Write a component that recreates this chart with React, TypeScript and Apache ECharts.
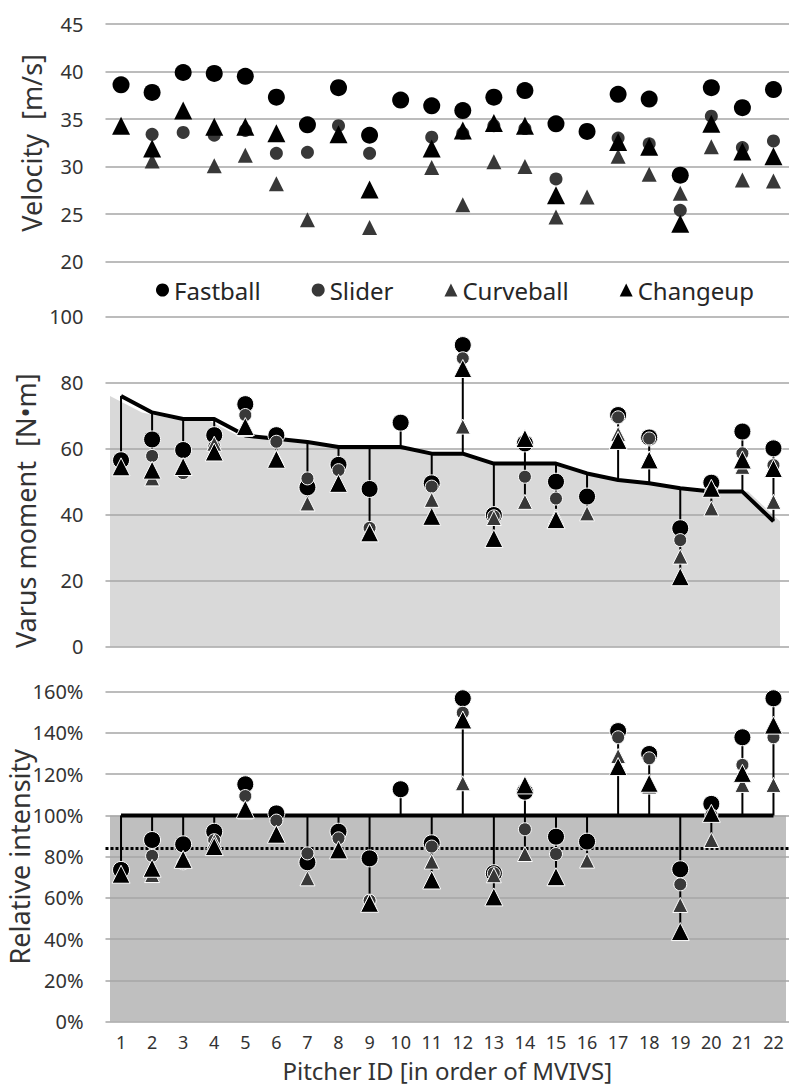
import React, { useEffect, useRef } from "react";
import * as echarts from "echarts";

const pitchers = ["1","2","3","4","5","6","7","8","9","10","11","12","13","14","15","16","17","18","19","20","21","22"];

// Velocity [m/s]
const velFastball = [38.6, 37.8, 39.9, 39.8, 39.5, 37.3, 34.4, 38.3, 33.3, 37.0, 36.4, 35.9, 37.3, 38.0, 34.5, 33.7, 37.6, 37.1, 29.1, 38.3, 36.2, 38.1];
const velSlider = [null, 33.4, 33.6, 33.3, 33.8, 31.4, 31.5, 34.3, 31.4, null, 33.1, 33.5, 34.3, 34.0, 28.7, null, 33.0, 32.4, 25.4, 35.3, 32.0, 32.7];
const velCurveball = [null, 30.6, null, 30.1, 31.2, 28.2, 24.4, null, 23.6, null, 29.9, 26.0, 30.5, 30.0, 24.7, 26.8, 31.1, 29.2, 27.2, 32.1, 28.6, 28.5];
const velChangeup = [34.3, 31.9, 35.9, 34.2, 34.2, 33.5, null, 33.4, 27.6, null, 31.9, 33.8, 34.6, 34.3, 27.0, null, 32.6, 32.1, 24.0, 34.5, 31.6, 31.1];

// Varus moment [N·m]
const momFastball = [56.5, 62.8, 59.6, 64.1, 73.5, 64.1, 48.3, 55.1, 47.8, 67.9, 49.5, 91.4, 39.9, 61.6, 50.0, 45.5, 70.2, 63.4, 35.9, 49.7, 65.2, 60.1];
const momSlider = [null, 57.8, 52.6, 60.6, 70.2, 62.1, 51.0, 53.5, 36.0, null, 48.5, 87.4, 39.5, 51.5, 44.9, null, 69.5, 63.1, 32.3, 47.0, 58.6, 55.0];
const momCurveball = [null, 51.0, null, 61.5, 66.0, 57.5, 43.4, null, 35.0, null, 44.5, 66.7, 39.0, 43.9, 39.5, 40.4, 64.5, 57.0, 27.3, 41.9, 54.5, 43.9];
const momChangeup = [54.5, 53.5, 54.6, 59.0, 66.7, 56.8, null, 49.5, 34.5, null, 39.5, 84.3, 32.8, 63.1, 38.5, null, 62.5, 56.6, 21.2, 48.0, 56.6, 54.0];
const momMVIVS = [76, 71, 69, 69, 64, 63, 62, 60.5, 60.5, 60.5, 58.5, 58.5, 55.5, 55.5, 55.5, 52.5, 50.5, 49.5, 48, 47, 47, 38];

// Relative intensity [%]
const relFastball = [73.6, 88.1, 86.0, 92.1, 115.1, 101.0, 77.3, 92.1, 79.2, 112.7, 86.5, 156.8, 72.0, 111.5, 89.7, 87.3, 140.9, 129.8, 73.9, 105.6, 137.9, 156.8];
const relSlider = [null, 80.4, 76.8, 88.0, 109.4, 97.5, 81.6, 88.9, 58.7, null, 84.9, 149.8, 72.0, 93.3, 81.3, null, 137.9, 127.7, 66.6, 100.2, 124.5, 137.9];
const relCurveball = [null, 71.1, null, 87.3, 102.0, 91.5, 69.5, null, 58.2, null, 77.6, 115.6, 71.0, 81.3, 69.5, 78.1, 128.8, 114.0, 56.6, 88.1, 114.8, 114.8];
const relChangeup = [71.5, 74.4, 78.7, 84.9, 103.0, 90.9, null, 83.3, 57.4, null, 68.7, 146.3, 60.5, 114.8, 70.3, null, 123.7, 115.6, 43.7, 101.0, 120.4, 143.8];
const relReference = [100, 100, 100, 100, 100, 100, 100, 100, 100, 100, 100, 100, 100, 100, 100, 100, 100, 100, 100, 100, 100, 100];
const relDotted = 84;

const yTicksVelocity = { min: 20, max: 45, interval: 5 };
const yTicksMoment = { min: 0, max: 100, interval: 20 };
const yTicksRelative = { min: 0, max: 160, interval: 20 };

const FONT = "'Noto Sans', 'DejaVu Sans', sans-serif";
const TEXT = "#333333";
const GRIDLINE = "#a6a6a6";

function toData(arr: (number | null)[]) {
  return arr.map((v) => (v == null ? "-" : v));
}

function highLow(ref: number[], groups: (number | null)[][]) {
  return ref.map((r, i) => {
    let lo = r;
    let hi = r;
    groups.forEach((g) => {
      const v = g[i];
      if (v != null) {
        lo = Math.min(lo, v);
        hi = Math.max(hi, v);
      }
    });
    return [i, lo, hi];
  });
}

const stemRender = (params: any, api: any) => {
  const x = api.value(0);
  const p1 = api.coord([x, api.value(1)]);
  const p2 = api.coord([x, api.value(2)]);
  return {
    type: "line",
    shape: { x1: p1[0], y1: p1[1], x2: p2[0], y2: p2[1] },
    style: { stroke: "#000", lineWidth: 2 },
  };
};

function pitchSeries(
  axis: number,
  f: (number | null)[],
  s: (number | null)[],
  c: (number | null)[],
  ch: (number | null)[],
  bordered: boolean
) {
  const border = bordered ? { borderColor: "#ffffff", borderWidth: 1 } : {};
  return [
    {
      name: "Fastball",
      type: "scatter",
      xAxisIndex: axis,
      yAxisIndex: axis,
      symbol: "circle",
      symbolSize: 17,
      itemStyle: { color: "#000000", opacity: 1, ...border },
      data: toData(f),
      z: 5,
    },
    {
      name: "Slider",
      type: "scatter",
      xAxisIndex: axis,
      yAxisIndex: axis,
      symbol: "circle",
      symbolSize: 13,
      itemStyle: { color: "#383838", opacity: 1, ...border },
      data: toData(s),
      z: 6,
    },
    {
      name: "Curveball",
      type: "scatter",
      xAxisIndex: axis,
      yAxisIndex: axis,
      symbol: "triangle",
      symbolSize: [15, 15],
      itemStyle: { color: "#383838", opacity: 1, ...border },
      data: toData(c),
      z: 7,
    },
    {
      name: "Changeup",
      type: "scatter",
      xAxisIndex: axis,
      yAxisIndex: axis,
      symbol: "triangle",
      symbolSize: [18, 18],
      itemStyle: { color: "#000000", opacity: 1, ...border },
      data: toData(ch),
      z: 8,
    },
  ];
}

export default function App() {
  const ref = useRef<HTMLDivElement>(null);

  useEffect(() => {
    document.body.style.margin = "0";
    if (!ref.current) return;
    const chart = echarts.init(ref.current, undefined, { renderer: "svg" });

    const catAxis = (gridIndex: number, showLabel: boolean) => ({
      type: "category",
      gridIndex,
      data: pitchers,
      boundaryGap: true,
      axisLine: { show: false },
      axisTick: { show: false },
      axisLabel: {
        show: showLabel,
        fontSize: 18,
        lineHeight: 18,
        color: TEXT,
        fontFamily: FONT,
        margin: 11,
        interval: 0,
      },
      splitLine: { show: false },
    });

    const valAxis = (gridIndex: number, ticks: any, name: string, nameGap: number, fmt: string, extra: any = {}) => ({
      type: "value",
      gridIndex,
      min: ticks.min,
      max: ticks.max,
      interval: ticks.interval,
      name,
      nameLocation: "middle",
      nameRotate: 90,
      nameGap,
      nameMoveOverlap: false,
      nameTextStyle: { fontSize: 27, lineHeight: 27, color: TEXT, fontFamily: FONT, ...(extra.nameStyle || {}) },
      axisLine: { show: false },
      axisTick: { show: false },
      axisLabel: { fontSize: 20, color: TEXT, fontFamily: FONT, margin: 22, formatter: fmt },
      splitLine: { show: true, lineStyle: { color: GRIDLINE, width: 1.5 } },
      z: 2,
    });

    const hiddenCat = (gridIndex: number) => ({
      type: "category",
      gridIndex,
      data: pitchers,
      boundaryGap: false,
      show: false,
    });
    const hiddenVal = (gridIndex: number, ticks: any) => ({
      type: "value",
      gridIndex,
      min: ticks.min,
      max: ticks.max,
      show: false,
      splitLine: { show: false },
    });

    const g = (left: number, right: number, top: number, height: number) => ({
      left,
      right,
      top,
      height,
      containLabel: false,
      outerBoundsMode: "none",
    });

    const option: any = {
      animation: false,
      backgroundColor: "#ffffff",
      textStyle: { fontFamily: FONT },
      grid: [
        g(105.5, 11, 24, 237.7),
        g(105.5, 11, 316.7, 330),
        g(105.5, 11, 691.7, 330),
        g(110, 20, 316.7, 330),
        g(110, 14, 691.7, 330),
      ],
      legend: {
        left: 151,
        top: 273,
        itemGap: 51,
        itemWidth: 13,
        itemHeight: 13,
        selectedMode: false,
        textStyle: { fontSize: 24, color: "#262626", fontFamily: FONT },
        data: [
          { name: "Fastball", icon: "circle" },
          { name: "Slider", icon: "circle" },
          { name: "Curveball", icon: "triangle" },
          { name: "Changeup", icon: "triangle" },
        ],
      },
      xAxis: [
        catAxis(0, false),
        catAxis(1, false),
        {
          ...catAxis(2, true),
          name: "Pitcher ID [in order of MVIVS]",
          nameLocation: "middle",
          nameGap: 37,
          nameMoveOverlap: false,
          nameTextStyle: { fontSize: 24, lineHeight: 24, color: TEXT, fontFamily: FONT, verticalAlign: "top" },
        },
        hiddenCat(3),
        hiddenCat(4),
      ],
      yAxis: [
        valAxis(0, yTicksVelocity, "Velocity  [m/s]", 61, "{value}"),
        valAxis(1, yTicksMoment, "Varus moment  [N•m]", 67, "{value}", { nameStyle: { padding: [0, 58, 0, 0] } }),
        valAxis(2, yTicksRelative, "Relative intensity", 73, "{value}%"),
        hiddenVal(3, yTicksMoment),
        hiddenVal(4, yTicksRelative),
      ],
      series: [
        ...pitchSeries(0, velFastball, velSlider, velCurveball, velChangeup, false),

        // Varus moment panel
        {
          type: "line",
          xAxisIndex: 3,
          yAxisIndex: 3,
          data: momMVIVS,
          symbol: "none",
          lineStyle: { width: 0 },
          areaStyle: { color: "#d9d9d9", opacity: 1 },
          silent: true,
          z: 1,
        },
        {
          type: "custom",
          xAxisIndex: 1,
          yAxisIndex: 1,
          renderItem: stemRender,
          encode: { x: 0, y: [1, 2] },
          data: highLow(momMVIVS, [momFastball, momSlider, momCurveball, momChangeup]),
          silent: true,
          z: 3,
        },
        {
          type: "line",
          xAxisIndex: 1,
          yAxisIndex: 1,
          data: momMVIVS,
          symbol: "none",
          lineStyle: { color: "#000000", width: 4 },
          silent: true,
          z: 4,
        },
        ...pitchSeries(1, momFastball, momSlider, momCurveball, momChangeup, true),

        // Relative intensity panel
        {
          type: "line",
          xAxisIndex: 4,
          yAxisIndex: 4,
          data: relReference,
          symbol: "none",
          lineStyle: { width: 0 },
          areaStyle: { color: "#bfbfbf", opacity: 1 },
          silent: true,
          z: 1,
        },
        {
          type: "custom",
          xAxisIndex: 2,
          yAxisIndex: 2,
          renderItem: stemRender,
          encode: { x: 0, y: [1, 2] },
          data: highLow(relReference, [relFastball, relSlider, relCurveball, relChangeup]),
          silent: true,
          z: 3,
        },
        {
          type: "line",
          xAxisIndex: 2,
          yAxisIndex: 2,
          data: relReference,
          symbol: "none",
          lineStyle: { color: "#000000", width: 4 },
          silent: true,
          z: 4,
          markLine: {
            silent: true,
            symbol: "none",
            label: { show: false },
            lineStyle: { color: "#000000", width: 3, type: [3, 2] },
            data: [{ yAxis: relDotted }],
          },
        },
        ...pitchSeries(2, relFastball, relSlider, relCurveball, relChangeup, true),
      ],
    };

    chart.setOption(option);
    return () => chart.dispose();
  }, []);

  return <div ref={ref} style={{ width: 800, height: 1088 }} />;
}
